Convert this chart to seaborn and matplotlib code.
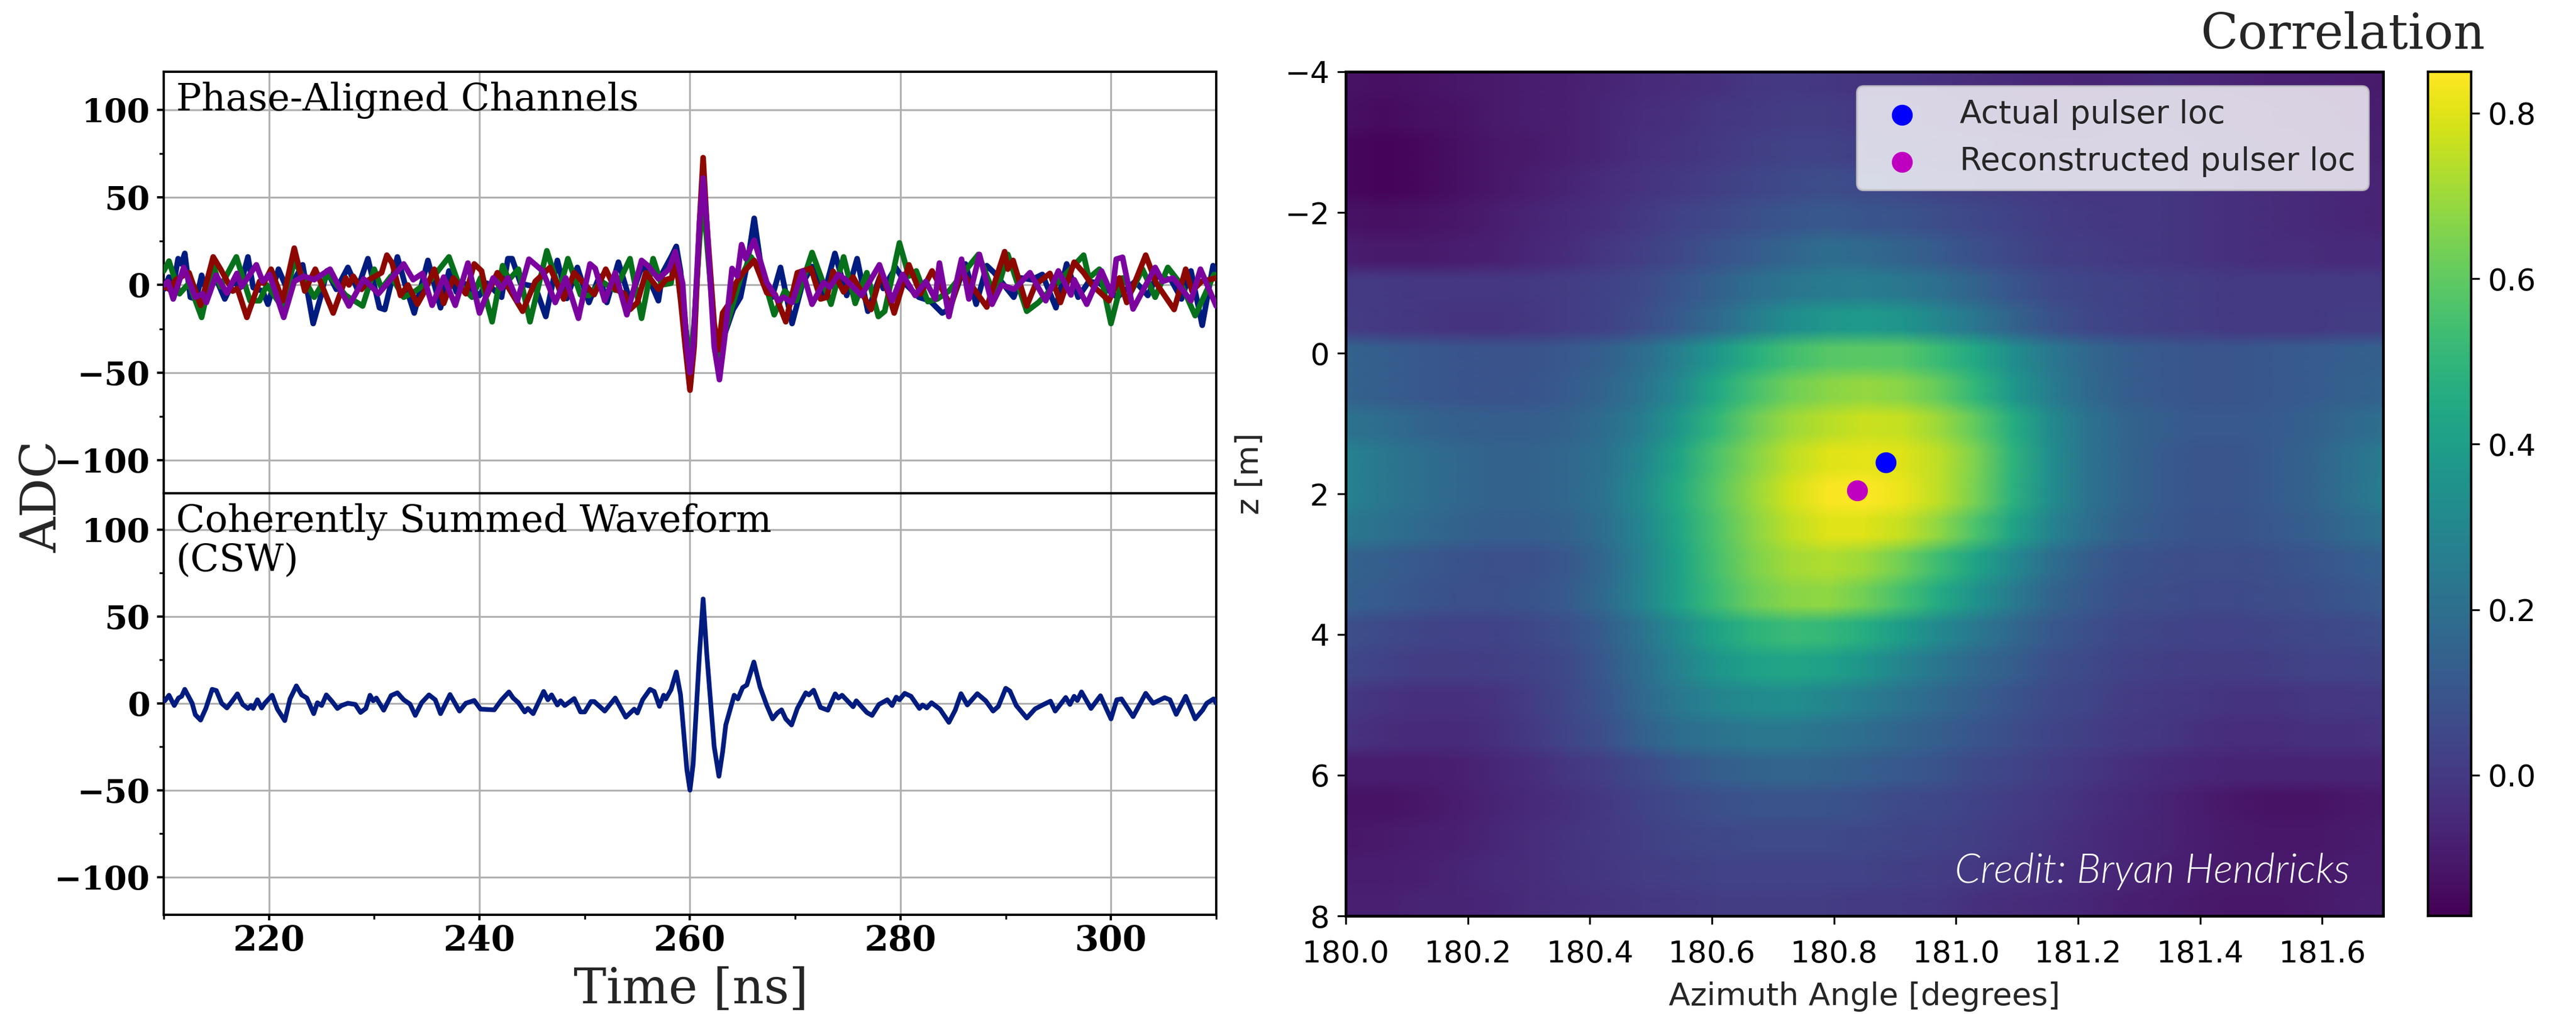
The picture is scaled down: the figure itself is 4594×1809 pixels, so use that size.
import numpy as np
import pandas as pd
import matplotlib
matplotlib.use("Agg")
import matplotlib.pyplot as plt
from matplotlib.ticker import MultipleLocator
import seaborn as sns

# ---- waveform channels: (time ns, ADC)
T_BLUE = [210.0,210.5,210.85,211.37,211.68,212,212.53,213.1,213.6,214.05,214.8,215.8,216.6,217.25,218,218.5,219.4,219.9,220.9,221.8,223.2,224.2,224.9,225.5,226.4,227.5,228.4,229.4,230.5,231,232.2,232.9,233.8,235.1,236.3,237.1,237.8,238.3,240,240.7,242.1,242.7,243.1,243.9,244.5,245.3,246.3,247.4,248.3,249.3,250.4,251.4,252.1,253.2,254.3,255.5,257,257.4,258.3,258.7,259.1,259.6,260,260.4,260.9,261.25,261.6,262.3,262.8,263.3,264.1,264.8,265.5,266.1,266.9,267.8,268.6,269.7,270.7,271.6,272.7,273.77,274.89,275.88,276.9,278,278.36,279.55,280.57,281.75,282.8,283.96,284.64,286.17,287.19,288.2,288.9,290.76,291.44,292.46,293.48,294.77,295.79,296.88,297.9,298.9,300.6,302.3,303.5,304.35,305.7,306.7,307.6,308.67,309.7,310]
V_BLUE = [-2.5,4.5,-2.5,15,12,18,-7,-8,5.5,-3.5,6,-8,2,-1.5,16,-1.5,-3.5,-11,9,-3.5,11.5,-22,-7,8,-2.5,10,-2.5,15,-13,-14,16,1,-16,14,-13,8,-4,2,-6,1,-7,15,15,1,0,-1,-18,14,-7.7,10,-10,5,-10,13,-9,12,-9,7,17,22,8,-25,-48,-25,30,56,30,-25,-43,-28,-14,-7,14,38,4,-7,10,-22,1,10.5,-6,18,-6,15,-15,4,-2,10,0,-7,-9,-16,-14,12,-11,11,7,-7,4,3,6,-13,12,-7,2,1,-7,2,-6,5,3,-8,8,-23,11,5]

T_GREEN = [210,210.5,211.5,212.4,213.6,214.7,215.4,216.9,218.2,219.1,219.8,221.3,222.4,224.3,225.6,227.3,228.9,230,230.7,231.6,232.8,233.9,235.4,237.1,238,239.3,240.1,241.2,242.2,242.8,243.7,244.8,246.4,247.6,248.4,249.6,250.4,251.6,252.9,254.3,255.4,256.5,257.3,258.2,258.6,259.1,259.6,260,260.4,260.9,261.25,261.6,262.3,262.8,263.4,264.8,265.8,266.9,268,269,270.1,271.6,273.4,274.6,275.7,276.8,277.9,278.5,279.9,280.8,281.5,282.6,283.5,284.6,287.4,289,290.2,292,293.1,295.2,297.4,297.9,298.9,300,301.1,302,303,304.2,305.4,306.7,308,309.8,310]
V_GREEN = [8,13.6,-5,1,-18.5,11,-1,16,-9,-9,0,-13,13.6,-7,6,-6,-12,9,-2,5,-7,-3.5,3,16,1,-7,4,-21,11,3,9,-21,19.5,-3,15,-5.6,-6,2,-3,15,-19,15,0,1,19,0,-25,-44,-22,25,50,25,-25,-41,-25,4,16,6,-17,-3.5,-9,18.5,-11,16,-10.5,7,-18,-15,24,5,8,-9.5,-8,-3.5,17.4,-7,17.4,-15,-10,3,17,4,9,-22,4,-3,9,-7,10,0,-17.5,6,4]

T_RED = [210,210.55,211.15,212.4,213.5,214.7,215.4,216.55,217,217.9,219.1,219.5,220.2,221.3,222.4,223.4,224.4,226.1,227.3,227.6,228,228.8,229.5,230.7,231.2,231.7,232.5,233.2,234.1,234.8,235.7,236.6,237.5,238.7,239.5,240.2,240.7,241.7,242.8,244.1,245.3,246.7,248,249,250.9,252,252.9,253.8,254.3,255,255.8,257,257.7,258.3,258.6,259.1,259.6,260,260.4,260.9,261.25,261.6,262.3,262.7,263.1,263.9,264.4,265.05,266.1,267.3,268.1,269.1,270.2,271.5,272.4,273,273.6,274.6,275.5,277.2,278.2,279.4,280.8,281.9,283,284.8,285.8,286.6,288.2,289.9,290.2,290.7,292,292.8,294.2,295.2,296.5,297.4,298.2,299.8,300.8,301.5,303.3,304.3,306,307.1,307.7,308.6,310]
V_RED = [-1,-2.5,3,7,-11.6,16,9,-3.5,-2,-18.5,2,1,9,-9,21,-3.5,9,-16,4,0,5,-2.5,3,7,17,12.5,-6,0,-11,-3.5,9,-10.5,4,-5,12,8,-6,7,-2,-15,2,10,-8,7,-5.5,9,-2.5,-5,-14,-10,7,-2.5,3,4,17,-8,-38,-60,-35,35,72.6,35,-22,-37,-16,-9,1.5,7,14,-4.5,-5.5,-21,7,9.5,-8,-7,7.8,-4,4.5,-14,7.5,-16,11.5,-5,8,-12,8,1,-12.6,19,9,14,-12,0,6.6,-10,13,7,0,-9,4,-10,17,1,-14,9,-3.5,2,4]

T_PURPLE = [210,210.4,210.9,211.9,213,213.7,214.05,214.97,216,216.95,217.4,218.8,219.4,220.05,221.4,222.4,223.3,224.3,225.8,227.6,229,230.4,231.4,232.8,233.7,234.6,235.5,236.6,237.7,238.9,240,241.3,242.1,242.7,243.6,244.7,246,247.2,248.2,249.4,250.5,251,251.9,252.9,254,255.4,256,257,258,258.6,259.3,259.7,260,260.3,260.9,261.25,261.6,262.3,262.8,263.3,264,264.5,264.9,265.3,266.1,266.8,267.3,268.4,268.9,269.7,270.7,271.6,272.7,273.3,274.1,274.8,276.3,278,279.2,280.2,281.4,282.4,283.3,283.7,284.6,285.8,286.5,287.5,288.7,289.6,290.8,292.3,293.8,295,296.2,296.5,297.7,299.1,300.1,300.5,301.1,302.1,304.2,304.9,305.9,307.6,308.5,310]
V_PURPLE = [0,2,-8,10,-7,-5,-10,5.6,-4.6,6.6,-1,11.5,2,6,-18.5,2,5,3,9,-12,3.4,-5,2,12,3,6.6,-11.6,4.5,-11.6,12.5,-16,4,-2,4,-9,14.7,8,-10,4,-19,12,9.4,-9,7,-17,14,11,3.5,9,19,1,-35,-50,-35,35,61,35,-35,-54,-30,9.4,5,23,15,25.5,11.5,1.4,-9,-7,-10,8,-11,1.4,-1.3,6,3,-6,11.5,-9,6,-6,2,-8,12.5,-18,14.7,-8,17.4,-11,0,-2.5,7,-9,8,-5.7,3,-11,8,-5.7,14.7,15.8,-13.7,10,2,4,-9,9,-12]

T_CSW = [210.1,210.5,211,211.4,211.7,212,212.7,213,213.5,214,214.6,215,215.5,216,216.6,217,217.5,218,218.3,218.5,218.9,219.3,219.6,220.3,220.8,221.5,222,222.6,223.1,223.6,224.25,224.6,225,225.45,226,226.5,226.9,227.5,228.2,228.7,229.2,229.6,229.9,230.2,230.9,231.6,232.2,232.8,233.4,233.9,234.5,235.2,235.8,236.3,237.2,238.1,238.7,239.5,240.1,241.4,242.1,242.8,243.2,243.7,244.3,244.6,245.1,246.1,246.5,246.85,247.4,247.7,248.1,249,249.6,250,250.6,250.9,251.9,252.9,253.9,254.7,255,255.5,256.2,256.6,257.1,257.5,257.7,258.2,258.7,259.1,259.7,260,260.3,260.9,261.25,261.6,262.3,262.75,263.1,263.4,263.9,264.2,264.55,265,265.4,266.07,266.65,267.3,267.85,268.3,268.7,269.1,269.65,270.2,271,271.3,271.75,272.4,273.1,273.8,274.1,274.45,275.5,275.8,276.8,277.3,277.95,278.75,279.2,279.6,279.9,280.4,281,281.8,282.1,282.5,282.95,283.75,284.6,285.2,285.75,286.35,287.3,288.1,288.8,289.3,290,290.4,291,292,292.8,293.6,294.25,294.7,295.7,296.1,296.5,296.8,297.2,298.1,299,300,300.55,301,302.1,303.3,304,305.1,305.6,306.2,307.1,308,308.7,309.1,309.75,310]
V_CSW = [1.4,4.6,-1.3,3,4,8,0,-6.6,-9.7,-3,8,7.3,0,-2.7,2,5.4,-0.7,-3,-1.3,-3,2,-2.7,0,4.6,-3.4,-10,2.5,10,4.8,3,-6,0.3,-1.3,4.8,1,-3,-1.3,0,-0.7,-5.3,-3,4.6,1.4,3,-4,4.4,6,2,-0.5,-7,0.3,4.8,2,-6,5,-4.5,0,1.6,-3.4,-3.8,2,6.5,3,0.3,-5,-3,-6,6.8,2,4.8,-1,1.4,-1.3,2.7,-5,-5,1,1,-4.5,3,-8,-3.4,-5.6,2,8,6.8,-1.8,4.6,2.5,7.8,18,5,-38,-50,-35,28,60,28,-25,-42,-28,-12.5,-1.8,4.6,2.5,9,10.5,23.7,9.5,-1.3,-9,-5.6,-3.8,-9,-12.5,-3,6,4.8,7.5,-2.4,-4,5.4,3,4.6,-2,1.4,-5.3,-7,-0.7,2,-1.3,3.5,2,5.7,4,-3,-1,-2.7,0.3,-3.4,-11,-4,5.5,-1,5.5,1.4,-4.5,-1.8,8.6,7,-1.3,-8.5,-3.2,-0.7,1.2,-4.5,3.3,-0.7,4,1.6,6.5,-3,4.3,-9,2,2.5,-7.7,5.7,0,3.2,2,-6.4,4,-9,-4,0,2.5,0]

CHANNEL_COLORS = ["#001c7f", "#07701a", "#8c0800", "#7b049f"]
PANEL_TITLES = ["Phase-Aligned Channels", "Coherently Summed Waveform\n(CSW)"]
XTICKS = [220, 240, 260, 280, 300]
YTICKS = [-100, -50, 0, 50, 100]

# ---- correlation map, percent, one row per z step (-4..8 m), columns 180.0..181.7 deg
AZ_TICKS = [180.0, 180.2, 180.4, 180.6, 180.8, 181.0, 181.2, 181.4, 181.6]
Z_TICKS = [-4, -2, 0, 2, 4, 6, 8]
CB_TICKS = [0.0, 0.2, 0.4, 0.6, 0.8]
CORR_PCT = [
 [-12,-13,-12,-11,-10,-9,-8,-7,-5,-4,-3,-1,0,-1,-2,-2,-3,-4,-5,-6,-7,-6,-5,-6,-7,-8,-8,-9,-10],
 [-13,-14,-13,-12,-10,-9,-8,-6,-4,-3,-1,0,1,1,0,-1,-2,-3,-4,-5,-4,-3,-3,-4,-5,-6,-7,-8,-9],
 [-15,-16,-15,-13,-11,-10,-8,-6,-3,-2,0,2,3,3,2,1,0,-1,-2,-3,-3,-2,-2,-3,-4,-5,-6,-7,-8],
 [-15,-16,-15,-13,-11,-9,-7,-4,-2,0,2,4,6,7,6,5,3,2,1,0,-1,-1,-1,-2,-3,-4,-5,-6,-7],
 [-12,-13,-12,-11,-9,-7,-5,-3,0,3,5,8,10,11,10,9,7,5,3,1,0,-1,-1,-2,-3,-4,-5,-6,-7],
 [-9,-10,-10,-9,-8,-6,-4,-1,2,5,9,12,16,19,18,15,12,8,5,2,1,0,-1,-2,-3,-4,-4,-5,-5],
 [0,0,-1,-1,-1,0,1,3,6,10,14,19,23,25,26,24,20,15,10,6,4,3,2,1,0,0,0,0,0],
 [1,0,-1,-2,-2,-1,1,3,7,12,18,26,33,37,38,36,30,23,15,9,5,3,2,1,0,0,0,1,1],
 [15,13,11,10,9,9,11,14,19,27,37,47,54,58,59,58,52,44,33,24,17,13,11,10,10,11,12,13,14],
 [15,13,11,10,9,10,12,16,22,31,44,55,63,67,69,67,61,50,37,26,18,13,11,10,10,11,12,14,15],
 [22,19,16,14,13,13,15,19,26,37,50,62,70,74,77,76,70,60,46,32,22,16,13,11,11,12,14,17,20],
 [28,24,20,17,15,15,17,21,30,42,56,66,75,80,81,80,75,65,49,33,22,16,12,10,10,12,15,20,25],
 [28,24,20,17,15,15,17,22,32,45,58,69,78,84,85,82,75,64,48,33,22,16,12,10,10,12,15,20,26],
 [24,21,18,15,13,13,15,20,30,43,56,67,75,80,80,76,68,56,42,29,20,14,11,9,9,11,13,17,21],
 [15,13,11,9,8,8,11,17,28,41,55,65,71,73,70,63,53,42,31,20,13,9,8,7,7,8,10,12,14],
 [14,12,10,8,8,9,12,18,29,41,53,62,67,68,63,55,45,35,25,16,11,8,7,6,6,7,8,10,12],
 [8,6,4,3,3,5,8,13,22,32,42,49,52,51,46,39,31,24,17,11,8,5,4,3,3,4,5,6,7],
 [5,3,1,1,2,3,6,11,19,28,36,41,43,41,36,29,23,17,13,8,6,3,2,1,1,2,3,3,4],
 [0,-2,-3,-3,-2,1,5,10,17,24,29,32,33,30,26,22,17,13,9,6,4,1,0,-1,-2,-2,-1,-1,0],
 [-2,-4,-5,-5,-3,0,4,8,14,19,22,24,24,22,19,16,13,10,7,4,2,0,-1,-3,-4,-4,-3,-3,-2],
 [-9,-9,-9,-8,-6,-4,-1,2,6,10,13,15,16,15,13,11,9,6,4,1,-1,-3,-5,-6,-7,-7,-7,-7,-7],
 [-12,-12,-11,-9,-7,-5,-3,0,3,6,8,9,9,9,8,6,5,3,1,-1,-3,-5,-7,-9,-11,-12,-12,-11,-10],
 [-11,-10,-9,-8,-6,-4,-2,0,2,4,5,6,6,6,5,4,3,2,0,-2,-4,-6,-7,-9,-10,-11,-11,-10,-9],
 [-9,-9,-8,-7,-5,-4,-2,-1,1,2,3,3,3,3,3,2,1,0,-2,-3,-5,-6,-8,-9,-10,-10,-10,-9,-9],
 [-8,-8,-7,-7,-6,-4,-3,-2,-1,0,1,1,1,1,0,0,-1,-3,-4,-5,-6,-8,-9,-10,-11,-11,-10,-9,-8],
]
ACTUAL_AZ, ACTUAL_Z = [180.885], [1.55]
RECO_AZ, RECO_Z = [180.838], [1.95]

sns.set_theme(style="ticks", rc={"axes.linewidth": 1.0, "xtick.major.width": 1.0, "ytick.major.width": 1.0,
                                 "xtick.minor.width": 0.8, "ytick.minor.width": 0.8,
                                 "axes.edgecolor": "black", "xtick.color": "black", "ytick.color": "black"})
plt.rcParams["font.family"] = ["DejaVu Sans"]

W, H = 4594, 1809
fig = plt.figure(figsize=(W / 300, H / 300), dpi=300, facecolor="white")


def box(x0, y0, x1, y1):
    return [x0 / W, 1 - y1 / H, (x1 - x0) / W, (y1 - y0) / H]


ax_top = fig.add_axes(box(292, 128, 2169, 880))
ax_bot = fig.add_axes(box(292, 880, 2169, 1632))

channels = [(T_BLUE, V_BLUE), (T_GREEN, V_GREEN), (T_RED, V_RED), (T_PURPLE, V_PURPLE)]
for (t, v), c in zip(channels, CHANNEL_COLORS):
    sns.lineplot(x=t, y=v, ax=ax_top, color=c, linewidth=2.4, estimator=None, sort=False,
                 solid_joinstyle="round", zorder=3)
sns.lineplot(x=T_CSW, y=V_CSW, ax=ax_bot, color=CHANNEL_COLORS[0], linewidth=2.0, estimator=None,
             sort=False, solid_joinstyle="round", zorder=3)

for ax, title, lim in zip([ax_top, ax_bot], PANEL_TITLES, [(-118.8, 121.6), (-121.7, 120.8)]):
    ax.set_xlim(210, 310)
    ax.set_ylim(*lim)
    ax.set_xticks(XTICKS)
    ax.set_yticks(YTICKS)
    ax.xaxis.set_minor_locator(MultipleLocator(10))
    ax.yaxis.set_minor_locator(MultipleLocator(25))
    ax.grid(True, which="major", color="#b0b0b0", linewidth=0.8)
    ax.set_axisbelow(True)
    ax.tick_params(axis="y", which="major", length=3, pad=2.8)
    ax.tick_params(axis="y", which="minor", length=2)
    ax.tick_params(axis="x", which="major", length=2.5, pad=1.5)
    ax.tick_params(axis="x", which="minor", length=2)
    for lab in ax.get_yticklabels():
        lab.set_fontfamily("DejaVu Serif")
        lab.set_fontweight("bold")
        lab.set_fontsize(14)
    for lab in ax.get_xticklabels():
        lab.set_fontfamily("DejaVu Serif")
        lab.set_fontweight("bold")
        lab.set_fontsize(14.8)
    ax.text(0.0115, 0.976, title, transform=ax.transAxes, va="top", ha="left",
            family="DejaVu Serif", fontsize=16.15, linespacing=1.06, color="black")
ax_top.tick_params(axis="x", which="both", length=0, labelbottom=False)

fig.text(76 / W, 1 - 886 / H, "ADC", rotation=90, ha="center", va="center", family="DejaVu Serif", fontsize=21)
fig.text(1232 / W, 1 - 1766 / H, "Time [ns]", ha="center", va="center", family="DejaVu Serif", fontsize=21)

# ---- right panel: each read row held as a band, the way the map steps from row to row
ax_heat = fig.add_axes(box(2400, 128, 4250, 1634))
cax = fig.add_axes(box(4330, 128, 4407, 1634))
BAND_REPEAT = 2
grid = pd.DataFrame(np.repeat(np.array(CORR_PCT) / 100.0, BAND_REPEAT, axis=0))
sns.heatmap(grid, ax=ax_heat, cmap="viridis", vmin=-0.17, vmax=0.85, cbar_ax=cax,
            shading="gouraud", rasterized=True, linewidths=0)
ax_heat.set_xlim(0, grid.shape[1] - 1)
ax_heat.set_ylim(grid.shape[0] - 1, 0)
ax_heat.axis("off")

ax_map = fig.add_axes(box(2400, 128, 4250, 1634), facecolor="none")
ax_map.set_xlim(180.0, 181.7)
ax_map.set_ylim(8, -4)
sns.scatterplot(x=ACTUAL_AZ, y=ACTUAL_Z, ax=ax_map, color="#0000ff", s=80, linewidth=0,
                label="Actual pulser loc", zorder=4)
sns.scatterplot(x=RECO_AZ, y=RECO_Z, ax=ax_map, color="#c000c0", s=80, linewidth=0,
                label="Reconstructed pulser loc", zorder=4)
ax_map.set_xticks(AZ_TICKS)
ax_map.set_yticks(Z_TICKS)
ax_map.set_xticklabels([f"{v:.1f}" for v in AZ_TICKS])
ax_map.set_yticklabels([str(v).replace("-", "\u2212") for v in Z_TICKS])
ax_map.tick_params(labelsize=13, length=3.5, width=0.8)
ax_map.tick_params(axis="x", pad=6.5)
ax_map.set_xlabel("Azimuth Angle [degrees]", fontsize=13.5, labelpad=5.5)
ax_map.set_ylabel("z [m]", fontsize=13.5)
ax_map.yaxis.set_label_coords(-0.078, 0.524)
for s in ax_map.spines.values():
    s.set_linewidth(1.2)
leg = ax_map.legend(loc="upper right", bbox_to_anchor=(0.9857, 0.9825), borderaxespad=0, fontsize=13.7,
                    framealpha=0.8, fancybox=True, handletextpad=0.8, labelspacing=0.5)
ax_map.text(0.968, 0.0395, "Credit: Bryan Hendricks", transform=ax_map.transAxes, ha="right", va="baseline",
            color="white", family="Lato", style="italic", weight=300, fontsize=17.5)

cax.tick_params(labelsize=13, length=3.5, width=0.8, colors="black")
cax.set_yticks(CB_TICKS)
cax.set_yticklabels([f"{v:.1f}" for v in CB_TICKS])
for s in cax.spines.values():
    s.set_visible(True)
    s.set_linewidth(1.0)
    s.set_color("black")
fig.text(4178 / W, 1 - 87 / H, "Correlation", ha="center", va="baseline", family="DejaVu Serif", fontsize=21)

fig.savefig("out.png", dpi=300, facecolor="white")
